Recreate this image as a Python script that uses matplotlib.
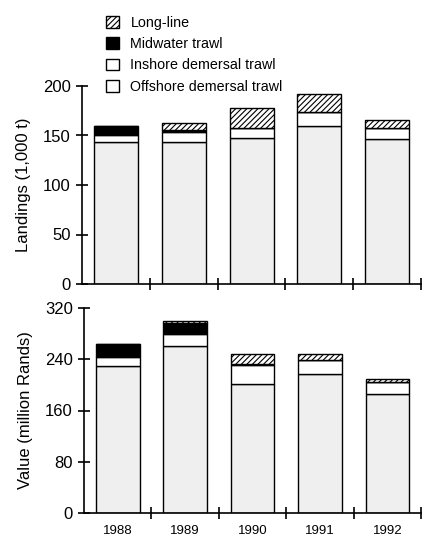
import matplotlib.pyplot as plt
from matplotlib.patches import Patch

years = ['1988', '1989', '1990', '1991', '1992']

# landings, 1,000 t
land_offshore = [143, 143, 147, 160, 146]
land_inshore = [8, 11, 11, 14, 12]
land_midwater = [9, 2, 0, 0, 0]
land_longline = [0, 7, 20, 18, 8]

# value, million Rands
val_offshore = [229, 261, 201, 217, 186]
val_inshore = [15, 18, 30, 22, 18]
val_midwater = [20, 17, 1.5, 0, 0]
val_longline = [0, 4, 16, 9, 4.5]

plt.rcParams['font.family'] = ['Liberation Sans', 'DejaVu Sans']
plt.rcParams['hatch.linewidth'] = 0.8

fig = plt.figure(figsize=(4.22, 5.35), dpi=100)
ax1 = fig.add_axes([82 / 422, 1 - 284 / 535, 1 - 82 / 422 - 0.002, 198 / 535])
ax2 = fig.add_axes([84 / 422, 1 - 513 / 535, 1 - 84 / 422 - 0.002, 205 / 535])

pos = [i + 0.5 for i in range(len(years))]
w = 0.65


def stack(ax, off, ins, mid, lng):
    b = [0] * len(off)
    ax.bar(pos, off, w, bottom=b, color='#efefef', edgecolor='black', linewidth=1)
    b = [x + y for x, y in zip(b, off)]
    ax.bar(pos, ins, w, bottom=b, color='white', edgecolor='black', linewidth=1)
    b = [x + y for x, y in zip(b, ins)]
    ax.bar(pos, mid, w, bottom=b, color='black', edgecolor='black', linewidth=1)
    b = [x + y for x, y in zip(b, mid)]
    ax.bar(pos, lng, w, bottom=b, color='white', edgecolor='black', linewidth=1, hatch='//////')


def style(ax, ymax, step):
    ax.set_xlim(0, 5)
    ax.set_ylim(0, ymax)
    ax.set_yticks(range(0, ymax + 1, step))
    ax.spines['top'].set_visible(False)
    ax.spines['right'].set_visible(False)
    ax.spines['left'].set_linewidth(1.2)
    ax.spines['bottom'].set_linewidth(1.2)
    ax.set_xticks([1, 2, 3, 4, 5])
    ax.set_xticklabels([])
    ax.tick_params(direction='inout', length=8, width=1.2, labelsize=12, pad=4)


stack(ax1, land_offshore, land_inshore, land_midwater, land_longline)
stack(ax2, val_offshore, val_inshore, val_midwater, val_longline)
style(ax1, 200, 50)
style(ax2, 320, 80)
ax1.set_ylabel('Landings (1,000 t)', fontsize=12, labelpad=9)
ax2.set_ylabel('Value (million Rands)', fontsize=12, labelpad=9)

for p, y in zip(pos, years):
    ax2.text(p, -18, y, ha='center', va='top', fontsize=9.5)

handles = [
    Patch(facecolor='white', edgecolor='black', hatch='//////', label='Long-line'),
    Patch(facecolor='black', edgecolor='black', label='Midwater trawl'),
    Patch(facecolor='white', edgecolor='black', label='Inshore demersal trawl'),
    Patch(facecolor='white', edgecolor='black', label='Offshore demersal trawl'),
]
fig.legend(handles=handles, loc='upper left', bbox_to_anchor=(0.221, 0.994), frameon=False,
           fontsize=10.3, handlelength=0.9, handleheight=0.9, handletextpad=0.8,
           labelspacing=0.5)

fig.savefig('out.png', dpi=100)
